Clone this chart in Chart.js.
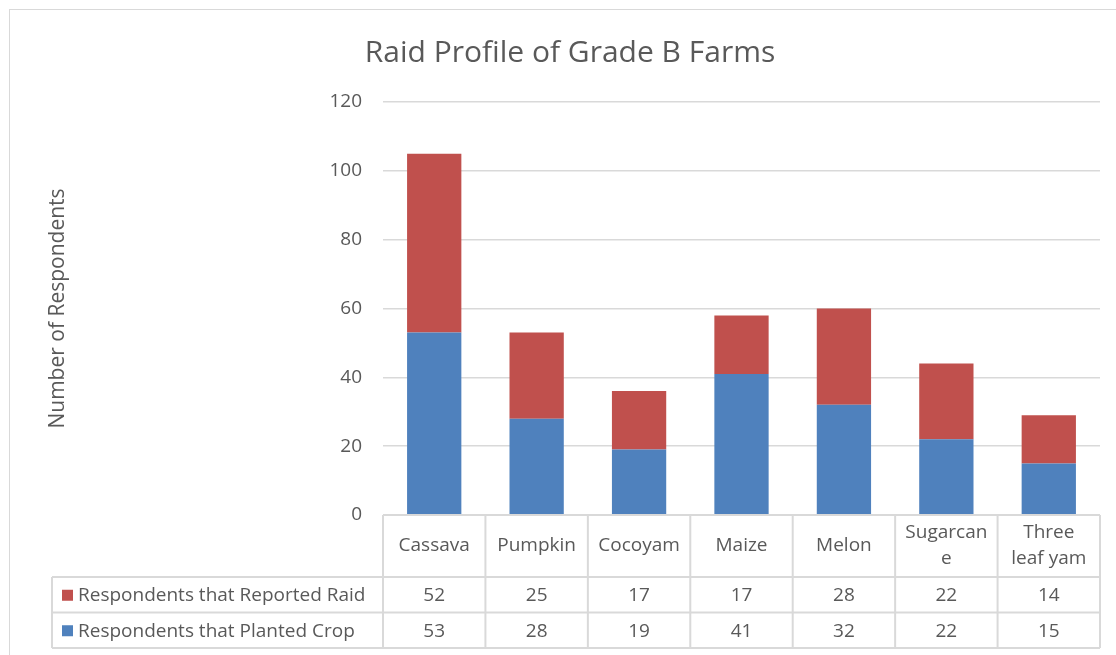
<!DOCTYPE html>
<html>
<head>
<meta charset="utf-8">
<script src="https://cdn.jsdelivr.net/npm/chart.js@4/dist/chart.umd.min.js"></script>
<style>
  body { margin: 0; background: #fff; }
  #wrap { width: 1116px; height: 655px; }
</style>
</head>
<body>
<div id="wrap"><canvas id="chart" width="1116" height="655"></canvas></div>
<script>
// data
const crops = ['Cassava', 'Pumpkin', 'Cocoyam', 'Maize', 'Melon', ['Sugarcan', 'e'], ['Three', 'leaf yam']];
const planted = [53, 28, 19, 41, 32, 22, 15];
const raided = [52, 25, 17, 17, 28, 22, 14];
const yTicks = [0, 20, 40, 60, 80, 100, 120];

const FONT = '"Open Sans", Lato, sans-serif';
const TEXT = '#595959';
const LINE = '#d9d9d9';
const RED = '#c0504d';
const BLUE = '#4f81bd';

// Excel style data table under the plot, drawn from the arrays above
const dataTable = {
  id: 'dataTable',
  beforeDraw(chart) {
    const c = chart.ctx;
    c.save();
    c.strokeStyle = LINE;
    c.lineWidth = 1;
    c.strokeRect(9.5, 9.5, 1300, 1300);
    c.restore();
  },
  afterDraw(chart) {
    const c = chart.ctx;
    const area = chart.chartArea;
    const x = chart.scales.x;
    const colW = (area.right - area.left) / crops.length;
    const top = area.bottom;
    const headBottom = top + 62;
    const rowH = 35.5;
    const labelLeft = 52;
    const rows = [
      { name: 'Respondents that Reported Raid', color: RED, values: raided },
      { name: 'Respondents that Planted Crop', color: BLUE, values: planted }
    ];
    const bottom = headBottom + rowH * rows.length;

    c.save();
    c.strokeStyle = LINE;
    c.lineWidth = 2;
    c.beginPath();
    c.moveTo(area.left, top); c.lineTo(area.right, top);
    for (let r = 0; r <= rows.length; r++) {
      const y = headBottom + r * rowH;
      c.moveTo(labelLeft, y); c.lineTo(area.right, y);
    }
    for (let i = 0; i <= crops.length; i++) {
      const xx = area.left + i * colW;
      c.moveTo(xx, top); c.lineTo(xx, bottom);
    }
    c.moveTo(labelLeft, headBottom); c.lineTo(labelLeft, bottom);
    c.stroke();

    c.fillStyle = TEXT;
    c.font = '19px ' + FONT;
    c.textAlign = 'center';
    c.textBaseline = 'middle';
    crops.forEach((lab, i) => {
      const cx = x.getPixelForValue(i);
      const lines = Array.isArray(lab) ? lab : [lab];
      const mid = (top + headBottom) / 2;
      lines.forEach((ln, k) => {
        c.fillText(ln, cx, mid + (k - (lines.length - 1) / 2) * 26);
      });
    });

    rows.forEach((row, r) => {
      const cy = headBottom + r * rowH + rowH / 2;
      c.fillStyle = row.color;
      c.fillRect(62, cy - 5, 11, 11);
      c.fillStyle = TEXT;
      c.textAlign = 'left';
      c.fillText(row.name, 78, cy + 1);
      c.textAlign = 'center';
      row.values.forEach((v, i) => {
        c.fillText(String(v), x.getPixelForValue(i), cy + 1);
      });
    });
    c.restore();
  }
};

const ctx = document.getElementById('chart').getContext('2d');
new Chart(ctx, {
  type: 'bar',
  data: {
    labels: crops,
    datasets: [
      {
        label: 'Respondents that Planted Crop',
        data: planted,
        backgroundColor: BLUE
      },
      {
        label: 'Respondents that Reported Raid',
        data: raided,
        backgroundColor: RED
      }
    ]
  },
  options: {
    responsive: false,
    animation: false,
    layout: { padding: { left: 40, right: 16, top: 0, bottom: 0 } },
    datasets: {
      bar: { categoryPercentage: 1, barPercentage: 0.53 }
    },
    plugins: {
      legend: { display: false },
      tooltip: { enabled: false },
      title: {
        display: true,
        text: 'Raid Profile of Grade B Farms',
        color: TEXT,
        font: { family: FONT, size: 30, weight: 'normal' },
        padding: { top: 35, bottom: 31 }
      }
    },
    scales: {
      x: {
        stacked: true,
        grid: { display: false },
        border: { display: false },
        ticks: { display: false },
        afterFit(scale) { scale.height = 140; }
      },
      y: {
        stacked: true,
        min: 0,
        max: 120,
        afterBuildTicks(scale) { scale.ticks = yTicks.map(v => ({ value: v })); },
        afterFit(scale) { scale.width = 343; },
        grid: { color: LINE, lineWidth: 1.5, drawTicks: false },
        border: { display: false },
        ticks: {
          color: TEXT,
          padding: 21,
          font: { family: FONT, size: 19 }
        },
        title: {
          display: true,
          text: 'Number of Respondents',
          color: TEXT,
          font: { family: FONT, size: 21 },
          padding: { top: 5, bottom: 0 }
        }
      }
    }
  },
  plugins: [dataTable]
});
</script>
</body>
</html>
